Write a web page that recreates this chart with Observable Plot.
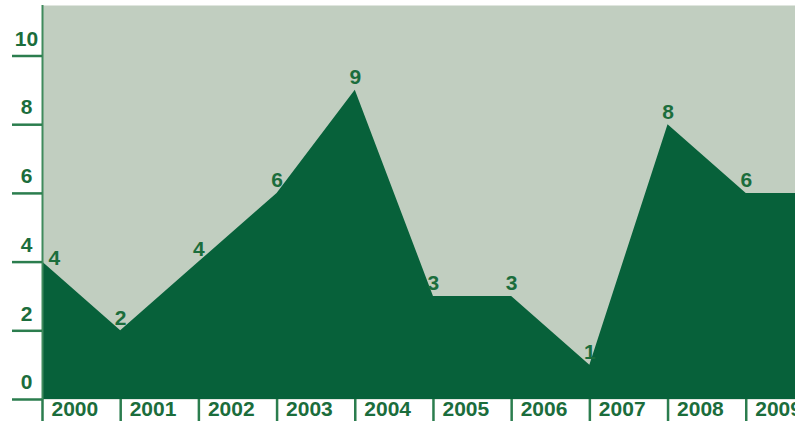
<!DOCTYPE html>
<html><head><meta charset="utf-8">
<script src="https://cdn.jsdelivr.net/npm/d3@7"></script>
<script src="https://cdn.jsdelivr.net/npm/@observablehq/plot@0.6"></script>
<style>body{margin:0;background:#fff}</style>
</head><body><div id="chart"></div>
<script>
const years = [2000, 2001, 2002, 2003, 2004, 2005, 2006, 2007, 2008, 2009];
const values = [4, 2, 4, 6, 9, 3, 3, 1, 8, 6];
const yTicks = [0, 2, 4, 6, 8, 10];
const xEnd = 2009.63;   // visible right edge (year units), the last value continues flat
const yTop = 11.47;     // visible top of the plotting area (value units)

const data = years.map((year, i) => ({year, value: values[i]}));
const areaData = [...data, {year: xEnd, value: values[values.length - 1]}];

const textColor = "#1b6d3c";
const tickColor = "#2b7d4e";

const chart = Plot.plot({
  width: 795, height: 429,
  marginLeft: 42, marginRight: 0, marginTop: 5, marginBottom: 30,
  x: {domain: [2000, xEnd]},
  y: {domain: [0, yTop]},
  style: {fontFamily: "'Liberation Sans', Arial, sans-serif", fontWeight: "bold", fontSize: "21px", color: textColor, background: "#fff", overflow: "hidden"},
  marks: [
    Plot.frame({fill: "#c1cec0", stroke: null}),
    Plot.areaY(areaData, {x: "year", y: "value", fill: "#07613a"}),
    Plot.ruleX([2000], {stroke: "#3f8a5c", strokeWidth: 2}),
    Plot.axisY({ticks: yTicks, tickSize: 30, stroke: tickColor, strokeWidth: 2.5, text: null, label: null}),
    Plot.text(yTicks, {x: 2000, y: d => d, text: d => String(d), dx: -16, dy: -17, textAnchor: "middle", fill: textColor, fontSize: 21}),
    Plot.axisX({ticks: years, tickSize: 22, stroke: tickColor, strokeWidth: 2.5, text: null, label: null}),
    Plot.text(years, {x: d => d, frameAnchor: "bottom", text: d => String(d), dx: 9, dy: 16, textAnchor: "start", fill: textColor, fontSize: 21}),
    Plot.text(data.slice(1), {x: "year", y: "value", text: d => String(d.value), lineAnchor: "bottom", dy: -6, fill: textColor, fontSize: 21}),
    Plot.text(data.slice(0, 1), {x: "year", y: "value", text: d => String(d.value), textAnchor: "start", lineAnchor: "bottom", dx: 6, dy: 3, fill: textColor, fontSize: 21})
  ]
});
document.getElementById("chart").appendChild(chart);
</script>
</body></html>
